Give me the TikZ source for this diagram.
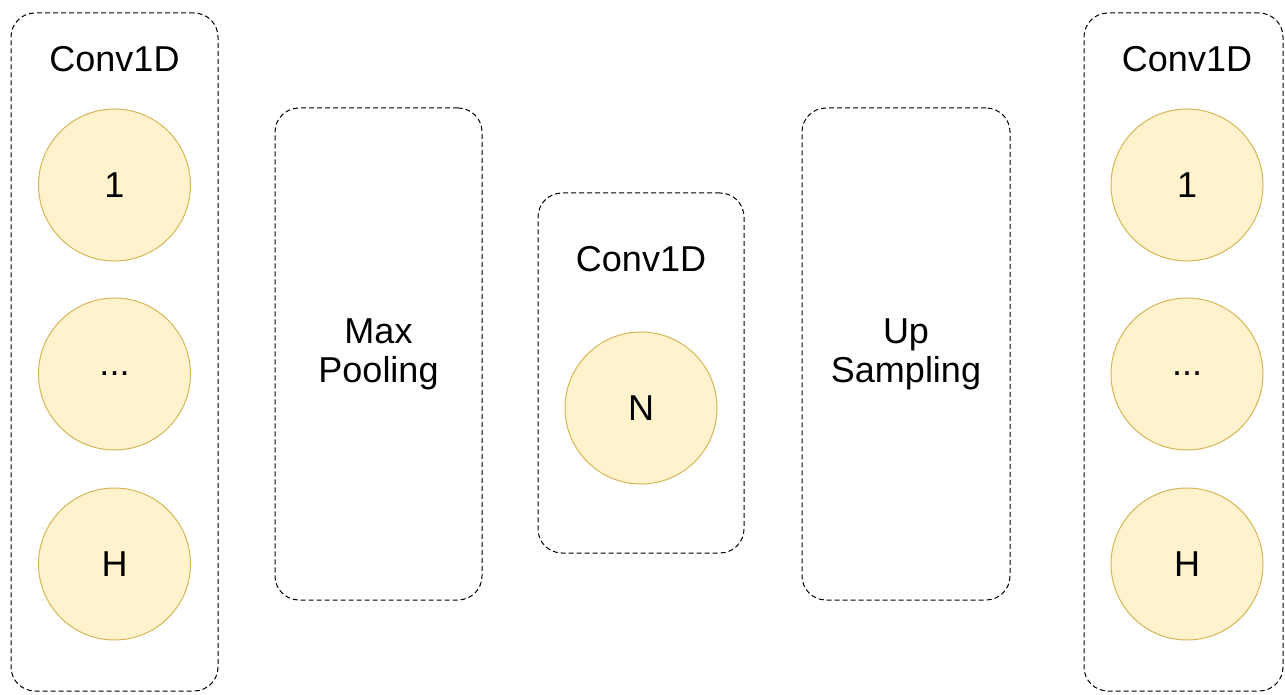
\documentclass[tikz,border=0pt]{standalone}
\usepackage{fontspec}
\setmainfont{Liberation Sans}
\definecolor{unitfill}{HTML}{FFF2CC}
\definecolor{unitline}{HTML}{D6B656}
\begin{document}
\begin{tikzpicture}[x=0.5pt,y=-0.5pt,
    layerbox/.style={draw,line width=0.5pt,dash pattern=on 2.5pt off 1.5pt,rounded corners=12pt,minimum width=#1},
    unit/.style={circle,draw=unitline,fill=unitfill,line width=0.5pt,minimum size=76pt,inner sep=0pt},
    lbl/.style={font=\fontsize{18}{19.5}\selectfont,align=center}]
    \useasboundingbox (0,0) rectangle (1285,695);
    \node[layerbox=103.5pt,minimum height=339pt] (convin) at (114.5,352) {};
    \node[layerbox=103.5pt,minimum height=246pt] (pool) at (378.5,354) {};
    \node[layerbox=103pt,minimum height=180pt] (convmid) at (641,373) {};
    \node[layerbox=104pt,minimum height=246pt] (upsamp) at (906,354) {};
    \node[layerbox=99.5pt,minimum height=339pt] (convout) at (1183.5,352) {};
    \node[lbl] (convintxt) at (114.5,59.5) {Conv1D};
    \node[lbl] (convmidtxt) at (641,259.5) {Conv1D};
    \node[lbl] (convouttxt) at (1187,59.5) {Conv1D};
    \node[lbl] (pooltxt) at (378.5,354) {Max\\Pooling};
    \node[lbl] (upsamptxt) at (906,354) {Up\\Sampling};
    \node[unit,lbl] (in1) at (114.5,185) {1};
    \node[unit,lbl] (indots) at (114.5,374) {...};
    \node[unit,lbl] (inH) at (114.5,564) {H};
    \node[unit,lbl] (midN) at (641,408) {N};
    \node[unit,lbl] (out1) at (1187,185) {1};
    \node[unit,lbl] (outdots) at (1187,374) {...};
    \node[unit,lbl] (outH) at (1187,564) {H};
\end{tikzpicture}
\end{document}
